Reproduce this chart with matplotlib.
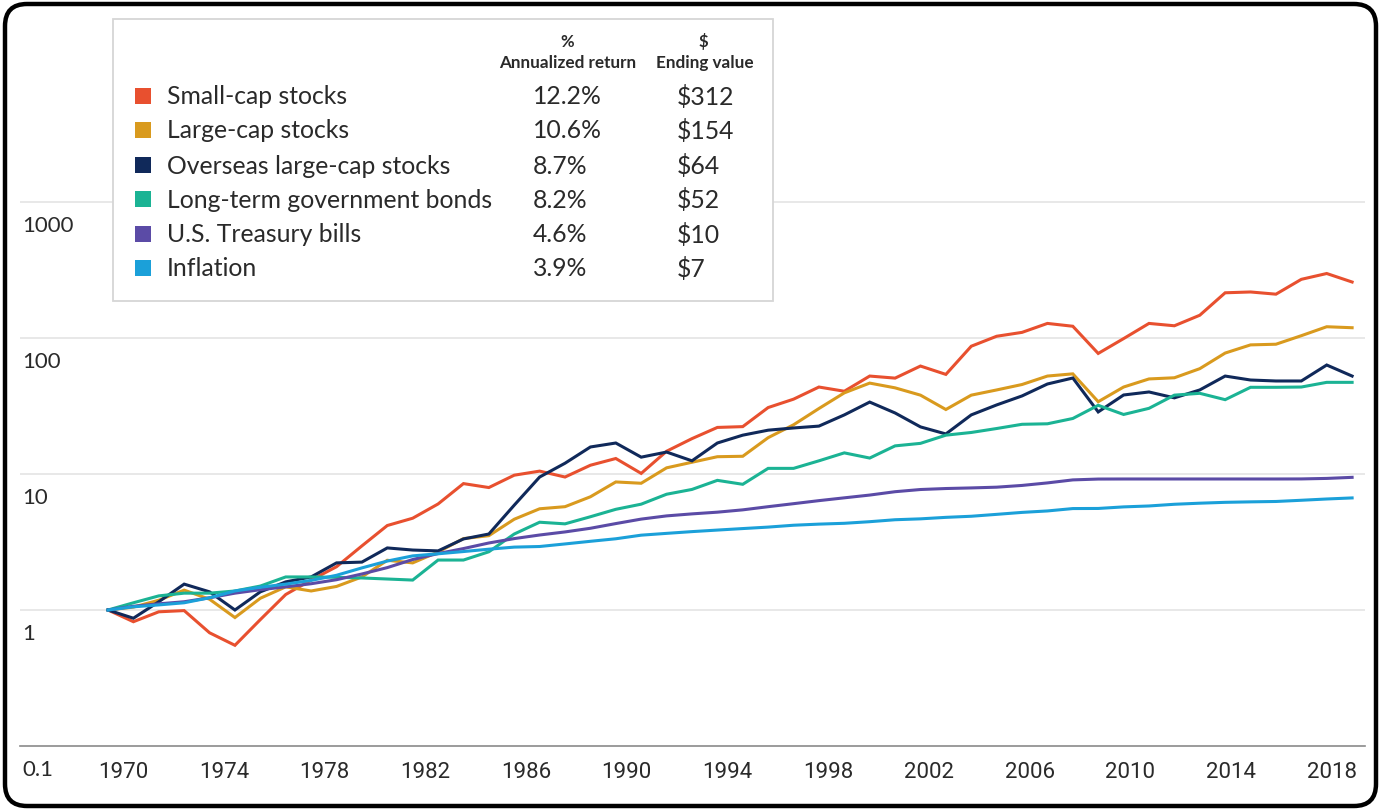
import numpy as np
import matplotlib.pyplot as plt
import matplotlib.transforms as mtransforms
from matplotlib.patches import FancyBboxPatch, Rectangle

# growth of $1, value at the start of each year
years = list(range(1970, 2020))

small_cap = [1.00, 0.82, 0.97, 0.99, 0.68, 0.55, 0.85, 1.30, 1.66, 2.08,
             2.96, 4.18, 4.73, 6.02, 8.5, 7.95, 9.8, 10.5, 9.5, 11.6,
             13.0, 10.1, 14.7, 18.2, 22.0, 22.3, 30.8, 35.5, 43.6, 40.6,
             52.5, 50.7, 62.2, 54.0, 87.0, 103, 110, 128, 122, 77.0,
             99, 128, 123, 147, 215, 218, 210, 270, 298, 258]
large_cap = [1.00, 1.05, 1.18, 1.40, 1.20, 0.88, 1.22, 1.48, 1.38, 1.49,
             1.75, 2.32, 2.22, 2.67, 3.35, 3.52, 4.65, 5.55, 5.75, 6.8,
             8.74, 8.55, 11.1, 12.2, 13.4, 13.5, 18.5, 23.0, 30.3, 39.5,
             46.6, 43.0, 38.0, 29.8, 38.0, 41.5, 45.5, 52.5, 54.5, 34.0,
             43.6, 50.0, 51.0, 59.5, 77.5, 89.0, 90.0, 104, 121, 119]
overseas = [1.00, 0.87, 1.15, 1.55, 1.36, 1.00, 1.36, 1.61, 1.75, 2.22,
            2.25, 2.86, 2.76, 2.72, 3.33, 3.62, 5.9, 9.5, 12.0, 15.8,
            16.9, 13.3, 14.5, 12.5, 16.9, 19.3, 21.0, 21.8, 22.5, 27.2,
            33.8, 28.1, 22.2, 19.7, 27.2, 32.2, 37.5, 45.9, 50.8, 28.6,
            38.1, 40.1, 36.3, 41.5, 52.5, 49.1, 48.3, 48.3, 63.3, 52.5]
bonds = [1.00, 1.13, 1.27, 1.33, 1.33, 1.38, 1.50, 1.75, 1.75, 1.74,
         1.72, 1.69, 1.66, 2.33, 2.33, 2.68, 3.62, 4.42, 4.30, 4.85,
         5.50, 6.00, 7.10, 7.70, 8.98, 8.40, 11.0, 11.0, 12.5, 14.3,
         13.1, 16.1, 16.8, 19.3, 20.2, 21.6, 23.2, 23.4, 25.6, 32.0,
         27.4, 30.4, 38.0, 39.2, 35.2, 43.4, 43.4, 43.6, 47.2, 47.2]
tbills = [1.00, 1.065, 1.11, 1.15, 1.23, 1.33, 1.41, 1.48, 1.56, 1.67,
          1.84, 2.05, 2.35, 2.60, 2.83, 3.11, 3.35, 3.56, 3.75, 3.99,
          4.32, 4.66, 4.92, 5.09, 5.24, 5.45, 5.75, 6.05, 6.37, 6.68,
          7.00, 7.41, 7.69, 7.82, 7.90, 8.00, 8.24, 8.60, 9.05, 9.18,
          9.19, 9.19, 9.19, 9.19, 9.19, 9.19, 9.19, 9.20, 9.28, 9.45]
inflation = [1.00, 1.055, 1.09, 1.13, 1.23, 1.38, 1.47, 1.55, 1.65, 1.80,
             2.04, 2.29, 2.50, 2.59, 2.69, 2.80, 2.90, 2.93, 3.06, 3.20,
             3.34, 3.55, 3.66, 3.77, 3.87, 3.97, 4.07, 4.20, 4.28, 4.34,
             4.46, 4.61, 4.68, 4.80, 4.89, 5.05, 5.22, 5.35, 5.57, 5.58,
             5.73, 5.82, 5.99, 6.10, 6.19, 6.24, 6.28, 6.41, 6.55, 6.67]

names = ['Small-cap stocks', 'Large-cap stocks', 'Overseas large-cap stocks',
         'Long-term government bonds', 'U.S. Treasury bills', 'Inflation']
returns = ['12.2%', '10.6%', '8.7%', '8.2%', '4.6%', '3.9%']
ending = ['$312', '$154', '$64', '$52', '$10', '$7']
colors = ['#e8502f', '#d99a1e', '#10295a', '#1bb394', '#5b4ba6', '#1ba0d9']

tick_years = list(range(1970, 2019, 4))
grid_values = [1, 10, 100, 1000]
y_labels = ['0.1', '1', '10', '100', '1000']

W, H = 1381, 812
fig = plt.figure(figsize=(W / 100, H / 100), dpi=100)
fig.patch.set_facecolor('white')


def fx(x):
    return x / W


def fy(y):
    return 1 - y / H


ax_top, ax_bot = 15, 747
ax = fig.add_axes([fx(20), fy(ax_bot), fx(1365) - fx(20), fy(ax_top) - fy(ax_bot)])
ax.set_yscale('log')
ax.set_ylim(0.1, 0.1 * 10 ** ((ax_bot - ax_top) / 136))
px_year = 25.39
ax.set_xlim(1970 + (20 - 108) / px_year, 1970 + (1365 - 108) / px_year)

for v in grid_values:
    ax.axhline(v, color='#e4e4e4', lw=1.2, zorder=1)

series = [small_cap, large_cap, overseas, bonds, tbills, inflation]
order = [0, 1, 3, 2, 4, 5]
for k in order:
    ax.plot(years, series[k], color=colors[k], lw=2.2, zorder=3 + k,
            solid_joinstyle='miter')

for s in ['top', 'right', 'left']:
    ax.spines[s].set_visible(False)
ax.spines['bottom'].set_color('#8a8a8a')
ax.spines['bottom'].set_linewidth(1.2)

ax.set_yticks([])
ax.yaxis.set_minor_locator(plt.NullLocator())
ax.set_xticks(np.linspace(1970.6, 2018.2, len(tick_years)))
ax.set_xticklabels([str(y) for y in tick_years],
                   family=['Liberation Sans Narrow', 'Roboto'], fontsize=16,
                   color='#2a2a2a')
ax.tick_params(axis='x', length=0, pad=11)

# y labels sit just under each gridline
off = mtransforms.offset_copy(ax.get_yaxis_transform(), fig=fig, x=2, y=-23,
                              units='dots')
for v, lab in zip([0.1] + grid_values, y_labels):
    ax.text(0, v, lab, transform=off, ha='left', va='center', fontsize=16,
            family='Lato', color='#2a2a2a')

# legend table
fig.add_artist(Rectangle((fx(113), fy(302)), fx(773) - fx(113), fy(20) - fy(302),
                         transform=fig.transFigure, facecolor='white',
                         edgecolor='#d6d6d6', lw=1.3, zorder=5))
txt = dict(color='#2a2a2a', family='Lato', zorder=6)
fig.text(fx(567), fy(42), '%', ha='center', va='center', fontsize=12,
         weight='bold', **txt)
fig.text(fx(568), fy(63), 'Annualized return', ha='center', va='center',
         fontsize=12.3, weight='bold', **txt)
fig.text(fx(703), fy(42), '$', ha='center', va='center', fontsize=12,
         weight='bold', **txt)
fig.text(fx(705), fy(63), 'Ending value', ha='center', va='center',
         fontsize=12.3, weight='bold', **txt)
row_y = [97, 131, 166, 200, 235, 269]
for i in range(len(names)):
    y = row_y[i]
    fig.add_artist(Rectangle((fx(135), fy(y + 8)), fx(16), 16 / H,
                             transform=fig.transFigure, facecolor=colors[i],
                             edgecolor='none', zorder=6))
    fig.text(fx(167), fy(y), names[i], ha='left', va='center', fontsize=17.8, **txt)
    fig.text(fx(533), fy(y), returns[i], ha='left', va='center', fontsize=17.8, **txt)
    fig.text(fx(677), fy(y), ending[i], ha='left', va='center', fontsize=17.8, **txt)

# rounded black frame
fig.add_artist(FancyBboxPatch((5, 5), W - 10, H - 10,
                              boxstyle='round,pad=0,rounding_size=22',
                              transform=mtransforms.IdentityTransform(),
                              facecolor='none', edgecolor='black', lw=3.2,
                              zorder=10))

fig.savefig('out.png', dpi=100)
